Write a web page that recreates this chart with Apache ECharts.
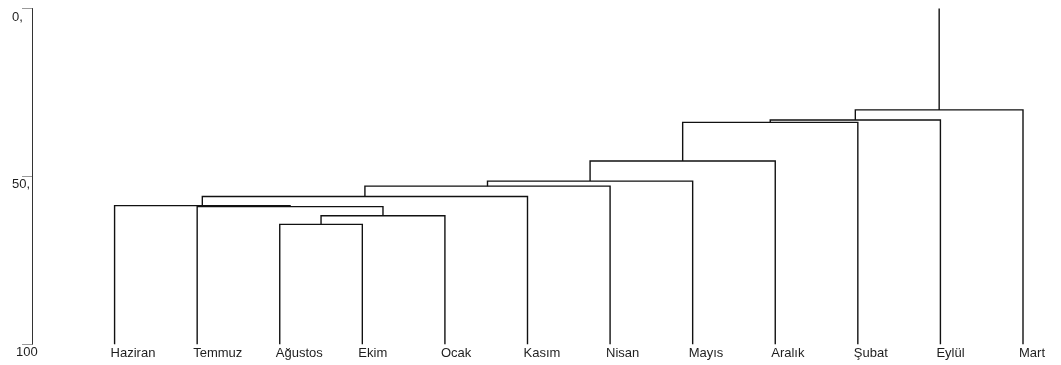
<!DOCTYPE html>
<html>
<head>
<meta charset="utf-8">
<script src="https://cdn.jsdelivr.net/npm/echarts@6/dist/echarts.min.js"></script>
<style>
  html, body { margin: 0; padding: 0; background: #fff; }
  #chart { width: 1061px; height: 365px; }
</style>
</head>
<body>
<div id="chart"></div>
<script>
// Leaves of the dendrogram, in drawing order
const leaves = ['Haziran', 'Temmuz', 'Ağustos', 'Ekim', 'Ocak', 'Kasım',
                'Nisan', 'Mayıs', 'Aralık', 'Şubat', 'Eylül', 'Mart'];

// Merge steps: node ids 0-11 are leaves, each merge creates node 12, 13, ...
const mergeLeft   = [2, 12, 1, 0, 15, 16, 17, 18, 19, 20, 21];
const mergeRight  = [3, 4, 13, 14, 5, 6, 7, 8, 9, 10, 11];
const mergeHeight = [64.3, 61.7, 59.0, 58.7, 56.0, 52.9, 51.4, 45.4, 33.9, 33.2, 30.2];

// Leaves sit at the bottom of the scale, the root stem reaches the top
const leafHeight = 100;
const rootTop = 0;

// Y axis tick values and their printed labels
const yTickValues = [0, 50, 100];
const yTickLabels = ['0,', '50,', '100'];

// Node positions: leaf index along x, height along y
const nodeX = leaves.map((_, i) => i);
const nodeH = leaves.map(() => leafHeight);
const segments = [];
mergeLeft.forEach((l, k) => {
  const r = mergeRight[k];
  const h = mergeHeight[k];
  nodeX.push((nodeX[l] + nodeX[r]) / 2);
  nodeH.push(h);
  segments.push({ coords: [[nodeX[l], nodeH[l]], [nodeX[l], h], [nodeX[r], h], [nodeX[r], nodeH[r]]] });
});
const root = nodeX.length - 1;
segments.push({ coords: [[nodeX[root], nodeH[root]], [nodeX[root], rootTop]] });

const font = 'Arial, "Liberation Sans", sans-serif';

const chart = echarts.init(document.getElementById('chart'), null, { renderer: 'canvas' });
chart.setOption({
  animation: false,
  backgroundColor: '#fff',
  grid: { left: 32, right: 38, top: 8.5, bottom: 20.7, containLabel: false },
  xAxis: {
    type: 'value',
    min: -1,
    max: leaves.length - 1,
    interval: 1,
    axisLine: { show: false },
    axisTick: { show: false },
    splitLine: { show: false },
    axisLabel: {
      show: true,
      margin: 3,
      align: 'left',
      padding: [0, 0, 0, -4],
      fontFamily: font,
      fontSize: 13,
      color: '#1e1e1e',
      formatter: v => leaves[Math.round(v)] || ''
    }
  },
  yAxis: {
    type: 'value',
    inverse: true,
    min: 0,
    max: 100,
    interval: 50,
    axisLine: { show: true, onZero: false, lineStyle: { color: '#333', width: 1 } },
    axisTick: { show: true, length: 10, lineStyle: { color: '#999', width: 1 } },
    splitLine: { show: false },
    axisLabel: {
      show: true,
      margin: 20,
      align: 'left',
      verticalAlign: 'top',
      lineHeight: 13,
      padding: [2, 0, 0, 0],
      fontFamily: font,
      fontSize: 13,
      color: '#1e1e1e',
      formatter: v => {
        const i = yTickValues.indexOf(Math.round(v));
        if (i < 0) return '';
        return i === yTickValues.length - 1 ? '{b|' + yTickLabels[i] + '}' : yTickLabels[i];
      },
      rich: {
        b: { padding: [0, 0, 0, 4], fontSize: 13, color: '#1e1e1e', lineHeight: 13, fontFamily: font }
      }
    }
  },
  series: [{
    type: 'lines',
    coordinateSystem: 'cartesian2d',
    polyline: true,
    silent: true,
    lineStyle: { color: '#111', width: 1.4, opacity: 1 },
    data: segments
  }]
});
</script>
</body>
</html>
